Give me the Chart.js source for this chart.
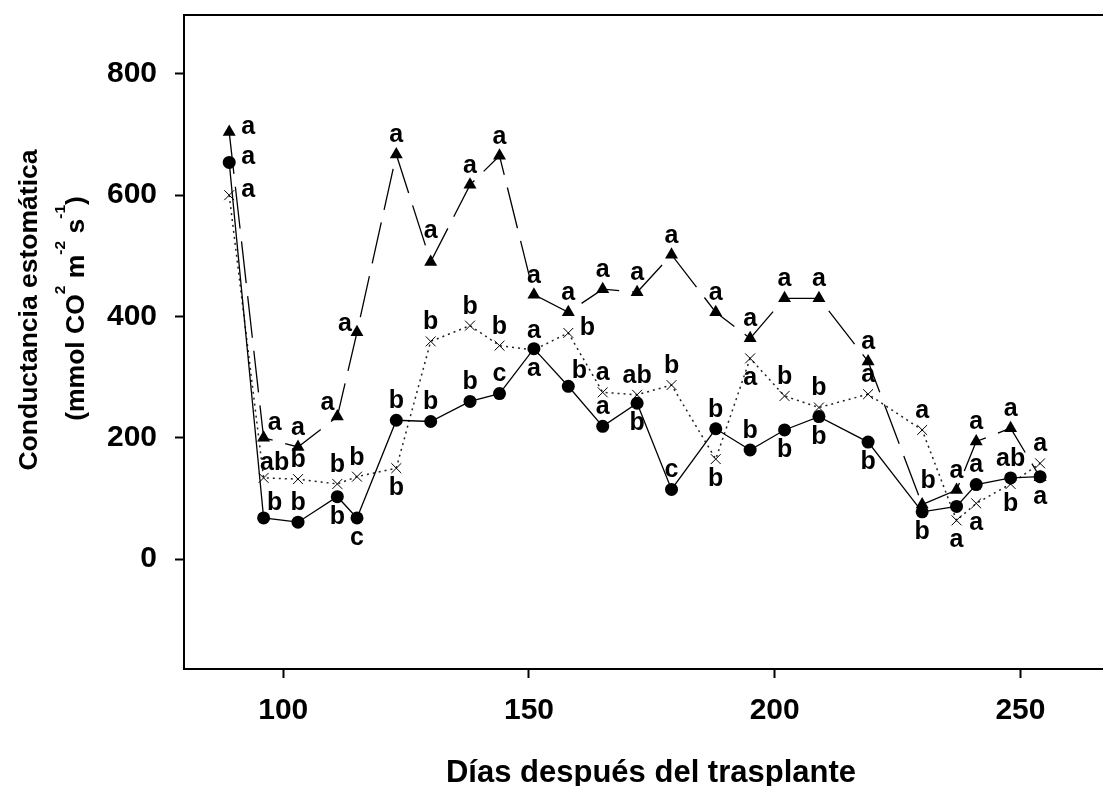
<!DOCTYPE html>
<html>
<head>
<meta charset="utf-8">
<script src="https://cdn.jsdelivr.net/npm/chart.js@4.4.1/dist/chart.umd.min.js"></script>
<style>
  html, body { margin: 0; padding: 0; background: #fff; }
  canvas { display: block; }
</style>
</head>
<body>
<canvas id="myChart" width="1103" height="786"></canvas>
<script>
// days after transplant
const days = [89, 96, 103, 111, 115, 123, 130, 138, 144, 151, 158, 165, 172, 179, 188, 195, 202, 209, 219, 230, 237, 241, 248, 254];

// stomatal conductance per treatment
const circleVals   = [654, 68, 61, 103, 68, 229, 227, 260, 273, 347, 285, 219, 257, 115, 215, 180, 213, 235, 193, 78, 87, 123, 134, 136];
const crossVals    = [600, 134, 132, 124, 136, 150, 359, 385, 352, 345, 373, 275, 271, 287, 165, 331, 269, 250, 272, 213, 64, 92, 124, 158];
const triangleVals = [704, 200, 185, 235, 374, 667, 490, 617, 665, 436, 407, 445, 440, 502, 407, 364, 430, 430, 326, 90, 114, 194, 216, 135];

// mean separation letters
const circleLetters   = ['a', 'b', 'b', 'b', 'c', 'b', 'b', 'b', 'c', 'a', 'b', 'a', 'b', 'c', 'b', 'b', 'b', 'b', 'b', 'b', '', 'a', 'ab', 'a'];
const crossLetters    = ['a', 'ab', 'b', 'b', 'b', 'b', 'b', 'b', 'b', 'a', 'b', 'a', 'ab', 'b', 'b', 'a', 'b', 'b', 'a', 'a', 'a', 'a', 'b', 'a'];
const triangleLetters = ['a', 'a', 'a', 'a', 'a', 'a', 'a', 'a', 'a', 'a', 'a', 'a', 'a', 'a', 'a', 'a', 'a', 'a', 'a', 'b', 'a', 'a', 'a', ''];

const xTicks = [100, 150, 200, 250];
const yTicks = [0, 200, 400, 600, 800];

// where each letter sits around its point
const circlePos   = ['e', 'ne', 'n', 's', 's', 'n', 'n', 'n', 'n', 's', 'ne', 'n', 's', 'n', 'n', 'n', 's', 's', 's', 's', 'n', 'n', 'n', 's'];
const crossPos    = ['e', 'ne', 'n', 'n', 'n', 's', 'n', 'n', 'n', 'n', 'e', 'n', 'n', 'n', 's', 's', 'n', 'n', 'n', 'n', 's', 's', 's', 'n'];
const trianglePos = ['e', 'ne', 'n', 'nw', 'w', 'n', 'nn', 'n', 'n', 'n', 'n', 'n', 'n', 'n', 'n', 'n', 'n', 'n', 'n', 'nne', 'n', 'n', 'n', 'n'];

const offsets = {
    n: [0, -19], nn: [0, -31], s: [0, 20], e: [19, -5], w: [-12, -8],
    ne: [11, -15], nw: [-10, -14], nne: [6, -23]
};

const FONT = "'Liberation Sans', Arial, Helvetica, sans-serif";

const pts = vals => vals.map((v, i) => ({ x: days[i], y: v }));

// no extra room for edge labels, the frame is fixed
const noPad = s => { s.paddingTop = 0; s.paddingBottom = 0; s.paddingLeft = 0; s.paddingRight = 0; };

// letters next to the points
const letterPlugin = {
    id: 'letters',
    afterDatasetsDraw(chart) {
        const c = chart.ctx;
        const sets = [[circleLetters, circlePos], [crossLetters, crossPos], [triangleLetters, trianglePos]];
        c.save();
        c.font = 'bold 25px ' + FONT;
        c.fillStyle = '#000';
        c.textAlign = 'center';
        c.textBaseline = 'middle';
        sets.forEach(([letters, pos], di) => {
            const meta = chart.getDatasetMeta(di);
            meta.data.forEach((p, i) => {
                if (!letters[i]) return;
                const o = offsets[pos[i]];
                c.fillText(letters[i], p.x + o[0], p.y + o[1]);
            });
        });
        c.restore();
    }
};

// axis titles and top frame line
const titlePlugin = {
    id: 'titles',
    afterDraw(chart) {
        const c = chart.ctx;
        const a = chart.chartArea;
        c.save();
        c.strokeStyle = '#000';
        c.lineWidth = 2;
        c.beginPath();
        c.moveTo(a.left - 1, a.top);
        c.lineTo(chart.width, a.top);
        c.stroke();

        c.fillStyle = '#000';
        c.textBaseline = 'alphabetic';
        c.textAlign = 'center';
        c.font = 'bold 31px ' + FONT;
        c.fillText('Días después del trasplante', 651, 782);

        c.save();
        c.translate(37, 310);
        c.rotate(-Math.PI / 2);
        c.font = 'bold 26.5px ' + FONT;
        c.fillText('Conductancia estomática', 0, 0);
        c.restore();

        // second line with superscripts
        const parts = [['(mmol CO', 0], ['2', 1], [' m', 0], ['-2', 1], [' s', 0], ['-1', 1], [')', 0]];
        const big = 'bold 26.5px ' + FONT, small = 'bold 15.5px ' + FONT;
        let total = 0;
        parts.forEach(([t, sup]) => { c.font = sup ? small : big; total += c.measureText(t).width; });
        c.save();
        c.translate(84, 308.5);
        c.rotate(-Math.PI / 2);
        c.textAlign = 'left';
        let x = -total / 2;
        parts.forEach(([t, sup]) => {
            c.font = sup ? small : big;
            c.fillText(t, x, sup ? -19 : 0);
            x += c.measureText(t).width;
        });
        c.restore();
        c.restore();
    }
};

const ctx = document.getElementById('myChart');

const config = {
    type: 'line',
    data: {
        datasets: [
            {
                label: 'circle',
                data: pts(circleVals),
                borderColor: '#000',
                backgroundColor: '#000',
                borderWidth: 1.3,
                pointStyle: 'circle',
                pointRadius: 6.5,
                pointBorderWidth: 0
            },
            {
                label: 'cross',
                data: pts(crossVals),
                borderColor: '#222',
                backgroundColor: '#000',
                borderWidth: 1.5,
                borderDash: [2, 4],
                pointStyle: 'crossRot',
                pointRadius: 7,
                pointBorderWidth: 1,
                pointBorderColor: '#000'
            },
            {
                label: 'triangle',
                data: pts(triangleVals),
                borderColor: '#000',
                backgroundColor: '#000',
                borderWidth: 1.3,
                borderDash: [42, 13],
                pointStyle: 'triangle',
                pointRadius: 7.5,
                pointBorderWidth: 0
            }
        ]
    },
    options: {
        responsive: false,
        devicePixelRatio: 1,
        animation: false,
        events: [],
        layout: { autoPadding: false, padding: { top: 15, right: 0, bottom: 0, left: 0 } },
        plugins: {
            legend: { display: false },
            tooltip: { enabled: false }
        },
        scales: {
            x: {
                type: 'linear',
                min: 79.8,
                max: 266.8,
                bounds: 'data',
                afterBuildTicks: s => { s.ticks = xTicks.map(v => ({ value: v })); },
                afterFit: s => { s.height = 117; noPad(s); },
                ticks: {
                    color: '#000',
                    font: { family: FONT, size: 30, weight: 'bold' },
                    padding: 15,
                    maxRotation: 0,
                    autoSkip: false
                },
                grid: { drawOnChartArea: false, tickLength: 9, tickWidth: 2, tickColor: '#000' },
                border: { display: true, color: '#000', width: 2 }
            },
            y: {
                min: -181,
                max: 897,
                bounds: 'data',
                afterBuildTicks: s => { s.ticks = yTicks.map(v => ({ value: v })); },
                afterFit: s => { s.width = 184; noPad(s); },
                ticks: {
                    color: '#000',
                    font: { family: FONT, size: 30, weight: 'bold' },
                    padding: 18,
                    autoSkip: false
                },
                grid: { drawOnChartArea: false, tickLength: 9, tickWidth: 2, tickColor: '#000' },
                border: { display: true, color: '#000', width: 2 }
            }
        }
    },
    plugins: [letterPlugin, titlePlugin]
};

const chart = new Chart(ctx, config);
</script>
</body>
</html>
